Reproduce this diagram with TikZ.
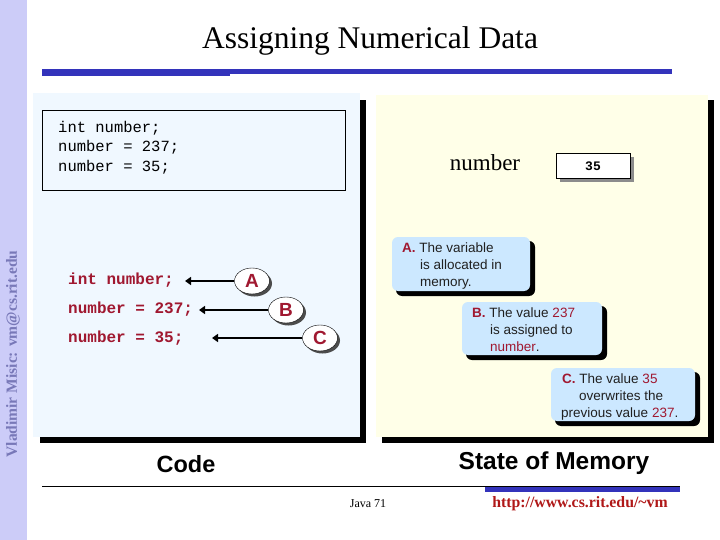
\documentclass[tikz,border=0pt]{standalone}
\usepackage{fontspec}
\setmainfont{Liberation Serif}
\setsansfont{Liberation Sans}
\setmonofont{Liberation Mono}
\usetikzlibrary{shapes.geometric,arrows.meta}
\definecolor{side}{HTML}{CCCCF8}
\definecolor{sidetxt}{HTML}{7878B8}
\definecolor{bar}{HTML}{3333BB}
\definecolor{codebg}{HTML}{F0F8FF}
\definecolor{membg}{HTML}{FFFFE8}
\definecolor{callbg}{HTML}{CCE8FF}
\definecolor{dred}{HTML}{A01830}
\definecolor{urlred}{HTML}{B01818}
\definecolor{ctxt}{HTML}{202020}
\tikzset{
  codeline/.style={anchor=west,font=\fontsize{16}{18}\selectfont\ttfamily\bfseries,text=dred,inner sep=0pt},
  tag/.style={ellipse,draw=black,fill=white,minimum width=35pt,minimum height=26pt,inner sep=0pt,font=\fontsize{19}{20}\selectfont\sffamily\bfseries,text=dred},
  tagshadow/.style={ellipse,fill=black!70,minimum width=35pt,minimum height=26pt,inner sep=0pt},
  callout/.style={rounded corners=6pt,fill=callbg,draw=none},
  callshadow/.style={rounded corners=6pt,fill=black},
  ctext/.style={anchor=north west,align=left,text=ctxt,font=\fontsize{13.5}{17}\selectfont\sffamily,inner sep=0pt},
  arr/.style={line width=2.6pt,-{Triangle[length=6pt,width=8pt]}},
}
\begin{document}
\begin{tikzpicture}[x=1pt,y=-1pt]
\useasboundingbox (0,0) rectangle (720,540);
\fill[white] (0,0) rectangle (720,540);
% sidebar
\fill[side] (0,0) rectangle (27,540);
\node[rotate=90,text=sidetxt,font=\fontsize{15.5}{17}\selectfont\bfseries] (side) at (13,354) {Vladimir Misic: vm@cs.rit.edu};
% title
\node[font=\fontsize{31.5}{34}\selectfont] (title) at (370,41) {Assigning Numerical Data};
\fill[bar] (42,69) rectangle (672,74);
\fill[bar] (42,69) rectangle (230,76);
% left panel
\fill[black] (40,100) rectangle (366,443);
\fill[codebg] (33,93) rectangle (360,437);
\draw[black,line width=0.8pt,fill=codebg] (42,110) rectangle (345,190);
\node[anchor=north west,align=left,inner sep=0pt,font=\fontsize{15.5}{19.5}\selectfont\ttfamily] (code) at (58,121) {int number;\\number = 237;\\number = 35;};
% red code lines
\node[codeline] (l1) at (68,280) {int number;};
\node[codeline] (l2) at (68,309) {number = 237;};
\node[codeline] (l3) at (68,338) {number = 35;};
\node[tagshadow] at (254.5,283.5) {};
\node[tagshadow] at (288.5,312.5) {};
\node[tagshadow] at (322.5,340.5) {};
\node[tag] (A) at (252,281) {A};
\node[tag] (B) at (286,310) {B};
\node[tag] (C) at (320,338) {C};
\coordinate (e1) at (185,281);
\coordinate (e2) at (199,310);
\coordinate (e3) at (212,338);
\draw[arr] (A.west) -- (e1);
\draw[arr] (B.west) -- (e2);
\draw[arr] (C.west) -- (e3);
% right panel
\fill[black] (382,100) rectangle (714,443);
\fill[membg] (376,95) rectangle (708,437);
\node[font=\fontsize{23}{26}\selectfont] (numlbl) at (485,163) {number};
\fill[black!45] (560,157) rectangle (634,182);
\node[draw=black,line width=0.8pt,fill=white,minimum width=74pt,minimum height=25pt,inner sep=0pt,font=\fontsize{13}{14}\selectfont\ttfamily\bfseries] (val) at (593,166) {35};
% callouts
\fill[callshadow] (396,241) rectangle (535,296);
\fill[callout] (392,237) rectangle (530,291);
\node[ctext] (ca) at (402,243) {{\color{dred}\bfseries A.} The variable\\\hspace*{18pt}is allocated in\\\hspace*{18pt}memory.};
\fill[callshadow] (466,306) rectangle (607,360);
\fill[callout] (462,302) rectangle (602,355);
\node[ctext] (cb) at (472,308) {{\color{dred}\bfseries B.} The value {\color{dred}237}\\\hspace*{18pt}is assigned to\\\hspace*{18pt}{\color{dred}number}.};
\fill[callshadow] (555,372) rectangle (700,426);
\fill[callout] (551,368) rectangle (695,421);
\node[ctext] (cc) at (561,374) {\hspace*{1pt}{\color{dred}\bfseries C.} The value {\color{dred}35}\\\hspace*{18pt}overwrites the\\previous value {\color{dred}237}.};
% captions
\node[font=\fontsize{23.5}{26}\selectfont\sffamily\bfseries] (codecap) at (186,464) {Code};
\node[font=\fontsize{24.5}{26}\selectfont\sffamily\bfseries] (memcap) at (554,463) {State of Memory};
% footer
\draw[black,line width=0.6pt] (42,486) -- (680,486);
\fill[bar] (485,487) rectangle (680,492);
\node[font=\fontsize{12}{14}\selectfont] (java) at (368,504) {Java 71};
\node[font=\fontsize{15.8}{17}\selectfont\bfseries,text=urlred] (url) at (580,504) {http://www.cs.rit.edu/\textasciitilde vm};
\end{tikzpicture}
\end{document}
